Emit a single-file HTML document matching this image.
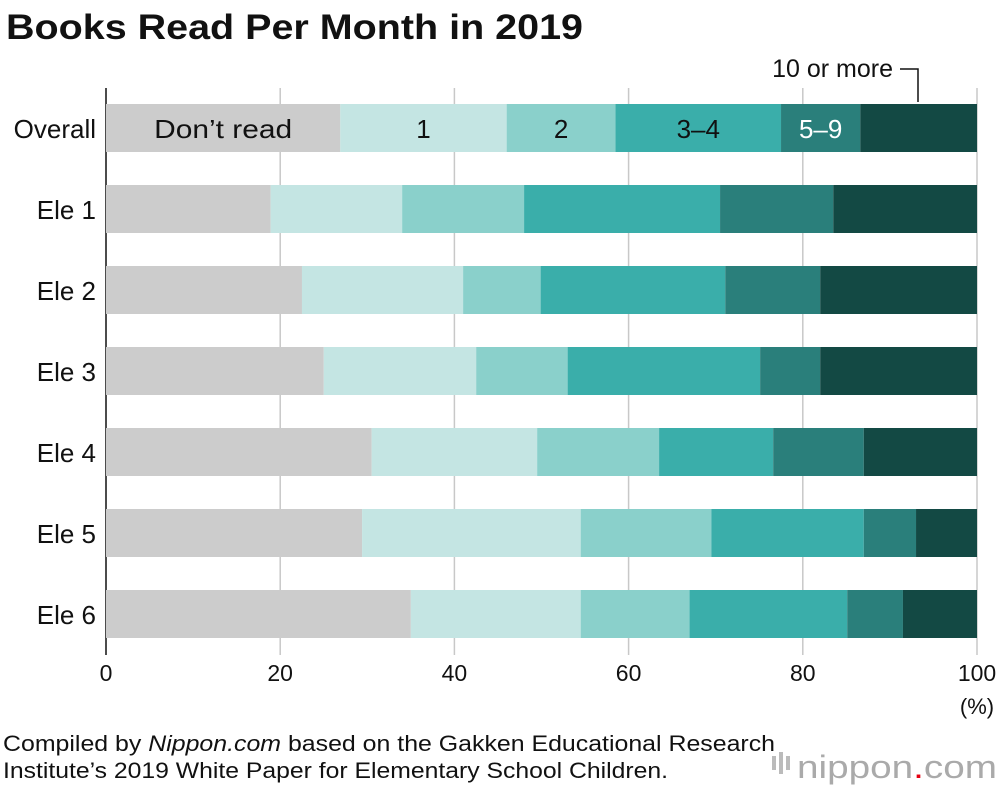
<!DOCTYPE html>
<html><head><meta charset="utf-8"><style>
body{margin:0;background:#fff;font-family:"Liberation Sans",sans-serif;}
svg{display:block}
</style></head><body>
<svg width="1000" height="790" id="c">
<text x="6" y="39" font-size="35" font-weight="bold" fill="#111" textLength="577" lengthAdjust="spacingAndGlyphs">Books Read Per Month in 2019</text>
<g id="grid"></g><g id="bars"></g><g id="labels"></g>
<text x="3" y="751" font-size="22" fill="#111" textLength="772" lengthAdjust="spacingAndGlyphs">Compiled by <tspan font-style="italic">Nippon.com</tspan> based on the Gakken Educational Research</text>
<text x="3" y="778" font-size="22" fill="#111" textLength="665" lengthAdjust="spacingAndGlyphs">Institute’s 2019 White Paper for Elementary School Children.</text>
<g fill="#bbb">
<rect x="772" y="756" width="4" height="14"/><rect x="779" y="752" width="4" height="22"/><rect x="786" y="756" width="4" height="14"/>
</g>
<text x="997" y="778" font-size="32" text-anchor="end" fill="#aaa" textLength="200" lengthAdjust="spacingAndGlyphs">nippon<tspan fill="#e60012">.</tspan>com</text>
</svg>
<script>
const categories=["Overall","Ele 1","Ele 2","Ele 3","Ele 4","Ele 5","Ele 6"];
const seriesNames=["Don’t read","1","2","3–4","5–9","10 or more"];
const dontRead=[26.9,18.9,22.5,25.0,30.5,29.4,35.0];
const one=[19.1,15.1,18.5,17.5,19.0,25.1,19.5];
const two=[12.5,14.0,8.9,10.5,14.0,15.0,12.5];
const threeFour=[19.0,22.5,21.2,22.1,13.1,17.5,18.1];
const fiveNine=[9.1,13.0,10.9,6.9,10.4,6.0,6.4];
const tenPlus=[13.4,16.5,18.0,18.0,13.0,7.0,8.5];
const ticks=[0,20,40,60,80,100];
const series=[dontRead,one,two,threeFour,fiveNine,tenPlus];
const colors=["#cccccc","#c4e5e3","#8ad0cb","#3aaeaa","#2a7f7b","#134944"];
const NS="http://www.w3.org/2000/svg";
const X=v=>106+v*8.71, Y=i=>104+i*81;
function mk(t,a,p){const e=document.createElementNS(NS,t);for(const k in a)e.setAttribute(k,a[k]);p.appendChild(e);return e;}
const g=document.getElementById('grid'),b=document.getElementById('bars'),l=document.getElementById('labels');
ticks.forEach(t=>{
 const ln=mk('line',{x1:X(t),x2:X(t),y1:88,y2:655,stroke:t==0?'#111':'#c8c8c8','stroke-width':1.5},g);
 
 
 const tx=mk('text',{x:X(t),y:681,'font-size':23,'text-anchor':'middle',fill:'#111'},l);
 tx.textContent=t;
 
 
});
const pc=mk('text',{x:977,y:714,'font-size':22,'text-anchor':'middle',fill:'#111'},l);pc.textContent='(%)';


categories.forEach((c,i)=>{
 let acc=0;
 series.forEach((s,j)=>{
  const r=mk('rect',{x:X(acc),y:Y(i),width:X(acc+s[i])-X(acc),height:48,fill:colors[j]},b);
  
  
  if(i==0&&j<5){
   const t=mk('text',{x:(X(acc)+X(acc+s[i]))/2,y:Y(i)+34,'font-size':26,'text-anchor':'middle',fill:j==4?'#fff':'#111'},l);
   if(j==0){t.setAttribute('textLength',138);t.setAttribute('lengthAdjust','spacingAndGlyphs');}
   t.textContent=seriesNames[j];
   
   
  }
  acc+=s[i];
 });
 const t=mk('text',{x:96,y:Y(i)+34,'font-size':26,'text-anchor':'end',fill:'#111'},l);
 t.textContent=c;
 
 
});
const lt=mk('text',{x:893,y:77,'font-size':25,'text-anchor':'end',fill:'#111'},l);lt.textContent=seriesNames[5];


const pl=mk('polyline',{points:'900,69 918,69 918,102',fill:'none',stroke:'#111','stroke-width':1.5},l);


</script>
</body></html>
